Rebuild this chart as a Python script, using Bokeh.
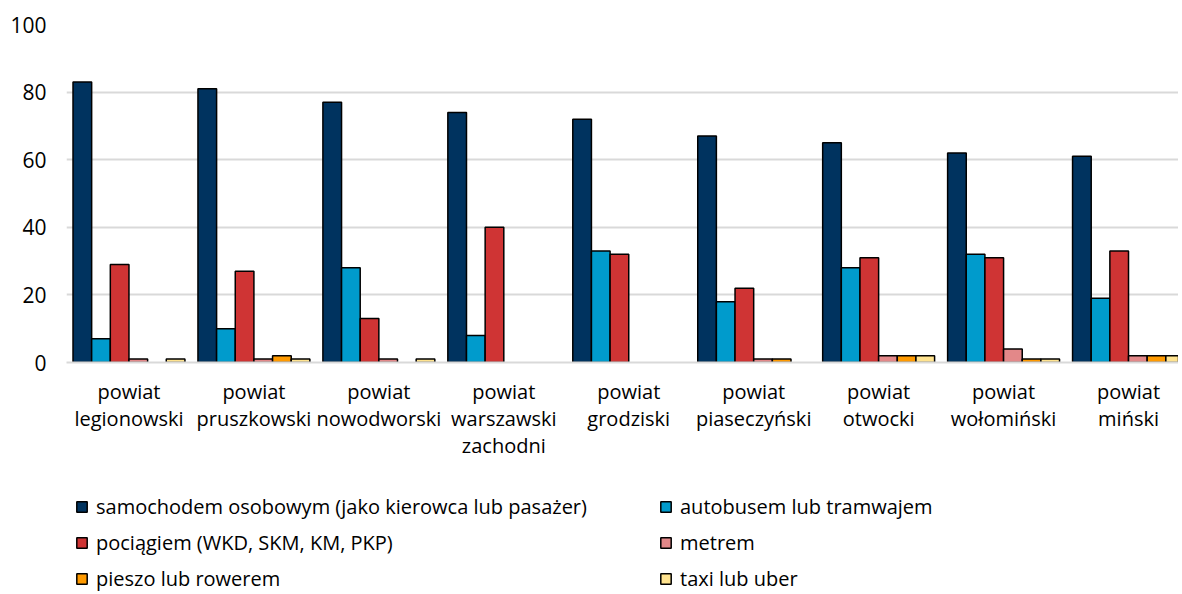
from bokeh.plotting import figure
from bokeh.layouts import column
from bokeh.models import ColumnDataSource, FixedTicker, Legend, LegendItem
from bokeh.embed import file_html
from bokeh.resources import INLINE

categories = ["powiat\nlegionowski", "powiat\npruszkowski", "powiat\nnowodworski",
              "powiat\nwarszawski\nzachodni", "powiat\ngrodziski", "powiat\npiaseczyński",
              "powiat\notwocki", "powiat\nwołomiński", "powiat\nmiński"]

series_names = ["samochodem osobowym (jako kierowca lub pasażer)", "autobusem lub tramwajem",
                "pociągiem (WKD, SKM, KM, PKP)", "metrem", "pieszo lub rowerem", "taxi lub uber"]

samochod = [83, 81, 77, 74, 72, 67, 65, 62, 61]
autobus = [7, 10, 28, 8, 33, 18, 28, 32, 19]
pociag = [29, 27, 13, 40, 32, 22, 31, 31, 33]
metro = [1, 1, 1, 0, 0, 1, 2, 4, 2]
pieszo = [0, 2, 0, 0, 0, 1, 2, 1, 2]
taxi = [1, 1, 1, 0, 0, 0, 2, 1, 2]

series = [samochod, autobus, pociag, metro, pieszo, taxi]
colors = ["#00335f", "#009bcc", "#cf3434", "#e38889", "#ff9a00", "#ffe38f"]

FONT = "Open Sans"
W = 1178

p = figure(width=W, height=485, output_backend="svg", toolbar_location=None,
           x_range=(0, 8.9), y_range=(0, 100),
           min_border_left=66, min_border_top=24, min_border_right=0, min_border_bottom=123)
p.outline_line_color = None

bw = 0.1493
for k, (vals, col) in enumerate(zip(series, colors)):
    xs = [i + 0.5 + (k - 2.5) * bw for i, v in enumerate(vals) if v > 0]
    ys = [v for v in vals if v > 0]
    src = ColumnDataSource(dict(x=xs, top=ys))
    p.vbar(x="x", top="top", bottom=0, width=bw, source=src, fill_color=col,
           line_color="black", line_width=1.5)

p.xgrid.visible = False
p.ygrid.grid_line_color = "#d9d9d9"
p.ygrid.grid_line_width = 2
p.yaxis.ticker = FixedTicker(ticks=[0, 20, 40, 60, 80, 100])
p.yaxis.axis_line_color = None
p.yaxis.major_tick_line_color = None
p.yaxis.minor_tick_line_color = None
p.yaxis.major_label_text_font = FONT
p.yaxis.major_label_text_font_size = "21px"
p.yaxis.major_label_text_color = "black"
p.yaxis.major_label_standoff = 14

p.xaxis.ticker = FixedTicker(ticks=[i + 0.5 for i in range(len(categories))])
p.xaxis.major_label_overrides = {i + 0.5: c for i, c in enumerate(categories)}
p.xaxis.axis_line_color = "#d9d9d9"
p.xaxis.axis_line_width = 2
p.xaxis.major_tick_line_color = None
p.xaxis.minor_tick_line_color = None
p.xaxis.major_label_text_font = FONT
p.xaxis.major_label_text_font_size = "20px"
p.xaxis.major_label_text_color = "black"
p.xaxis.major_label_text_line_height = 1.0
p.xaxis.major_label_standoff = 9

# legend figure
p2 = figure(width=W, height=107, output_backend="svg", toolbar_location=None,
            x_range=(0, 1), y_range=(0, 1), x_axis_location=None, y_axis_location=None,
            min_border=0)
p2.outline_line_color = None
p2.xgrid.visible = False
p2.ygrid.visible = False
items = []
for col, name in zip(colors, series_names):
    # zero-size placeholder bar: only its style is used by the legend
    r = p2.vbar(x=[0.5], top=[0.5], bottom=[0.5], width=0, fill_color=col,
                line_color="black", line_width=1.5)
    items.append(LegendItem(label=name, renderers=[r]))

ordered = [items[0], items[2], items[4], items[1], items[3], items[5]]
legend = Legend(items=ordered, ncols=2, orientation="vertical", location=(9, 0))
legend.label_text_font = FONT
legend.label_text_font_size = "20px"
legend.label_text_color = "black"
legend.glyph_width = 13
legend.glyph_height = 13
legend.label_standoff = 8
legend.spacing = 9
legend.label_height = 22
legend.label_width = 554
legend.padding = 0
legend.margin = 0
legend.border_line_color = None
legend.background_fill_alpha = 0
p2.add_layout(legend)

layout = column(p, p2, spacing=0)
open("out.html", "w").write(file_html(layout, INLINE))
